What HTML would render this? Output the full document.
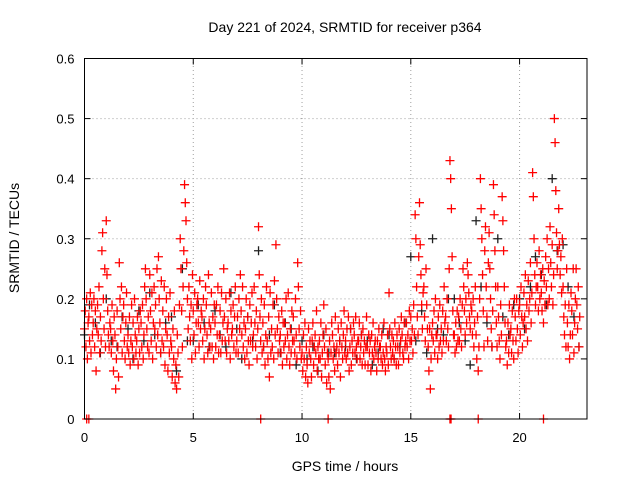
<!DOCTYPE html>
<html><head><meta charset="utf-8"><style>
body{margin:0;background:#fff}
svg{display:block;font-family:"Liberation Sans",sans-serif}
</style></head><body>
<svg id="chart" width="640" height="480" viewBox="0 0 640 480">
<rect x="0" y="0" width="640" height="480" fill="#fff"/>
<text x="345" y="32" text-anchor="middle" font-size="14">Day 221 of 2024, SRMTID for receiver p364</text>
<text x="345" y="471" text-anchor="middle" font-size="14">GPS time / hours</text>
<text transform="translate(19,238) rotate(-90)" text-anchor="middle" font-size="14">SRMTID / TECUs</text>
<g id="grid"></g>
<g id="ticks"></g>
<g id="black-series"></g>
<g id="red-series"></g>
<rect x="84.5" y="58.5" width="502.5" height="360.5" fill="none" stroke="#000" stroke-width="1"/>
</svg>
<script>
const xTicks = [0, 5, 10, 15, 20];
const xTickLabels = ["0", "5", "10", "15", "20"];
const yTicks = [0, 0.1, 0.2, 0.3, 0.4, 0.5, 0.6];
const yTickLabels = ["0", "0.1", "0.2", "0.3", "0.4", "0.5", "0.6"];
const redBinStep = 0.2;
// SRMTID in hundredths of TECU per 0.2h bin
const redBins = [
[15,18,12,20,10,16],[17,13,21,11,19,14],[16,20,12,18,8,15],[19,14,22,11,17,13],[28,31,20,15,25,12],
[33,24,18,14,12,16],[15,11,19,13,8,17],[14,5,10,18,12,7],[26,20,15,22,11,17],[19,13,10,16,21,12],
[14,11,17,9,13,19],[12,16,10,20,14,11],[13,17,9,15,11,18],[16,12,19,10,14,22],[25,20,15,12,17,11],
[24,18,13,21,10,16],[22,15,19,12,25,14],[27,20,16,11,23,13],[18,12,22,9,15,20],[14,8,17,11,21,13],
[12,7,15,10,18,6],[9,5,14,11,7,19],[30,25,18,12,22,28],[39,36,33,26,20,15],[22,17,13,19,10,24],
[18,14,21,11,16,19],[20,16,12,23,15,18],[17,13,20,10,15,22],[19,14,11,24,16,12],[15,21,12,17,10,19],
[16,12,19,14,22,11],[14,18,11,21,13,16],[25,17,13,20,11,15],[16,13,21,10,18,14],[15,19,12,17,22,11],
[13,17,11,20,15,24],[18,14,22,12,16,10],[15,20,11,17,13,9],[19,13,16,21,12,14],[22,16,12,18,10,15],
[32,24,17,13,20,11],[16,12,19,9,14,22],[13,10,17,7,21,11],[15,12,19,10,23,14],[29,20,15,11,17,13],
[14,11,18,9,16,12],[16,13,20,10,14,21],[12,9,15,11,18,13],[17,13,11,20,14,10],[26,22,15,12,18,10],
[11,8,14,10,16,7],[12,9,6,15,11,13],[10,7,13,16,9,12],[14,11,18,8,12,10],[13,10,16,7,11,14],
[19,12,9,15,6,11],[10,7,13,5,11,16],[14,10,12,8,17,11],[12,9,15,11,13,7],[16,12,10,14,18,11],
[13,10,15,11,17,8],[12,15,9,13,11,16],[14,11,17,12,10,13],[13,16,10,12,14,9],[15,11,13,9,12,17],
[12,9,14,11,13,8],[14,11,16,10,12,13],[11,8,13,10,15,12],[12,10,14,9,11,16],[10,8,12,11,14,9],
[21,15,12,10,14,11],[13,10,16,12,9,14],[12,9,15,11,13,17],[14,11,10,16,12,13],[16,12,14,10,18,13],
[17,13,15,11,19,14],[34,30,22,17,14,27],[36,29,24,19,15,21],[22,17,13,25,19,15],[12,8,15,5,10,14],
[16,13,18,11,20,14],[14,10,17,12,19,13],[15,11,18,13,22,16],[17,13,20,15,12,25],[43,40,35,27,18,14],
[14,11,16,12,18,13],[17,13,20,15,12,19],[25,22,18,14,20,16],[26,24,21,17,15,19],[18,14,20,12,16,22],
[14,10,17,8,12,20],[40,35,30,24,18,12],[28,32,22,17,13,26],[31,25,20,15,12,18],[39,34,28,22,16,12],
[22,17,13,10,19,14],[37,33,28,22,16,12],[13,9,16,11,19,14],[15,11,18,13,10,20],[17,13,20,15,11,18],
[19,14,22,17,12,16],[21,17,24,15,19,13],[23,18,20,26,16,21],[41,37,30,24,19,22],[26,22,18,28,20,24],
[21,18,25,16,23,19],[27,22,30,19,25,20],[32,26,22,29,19,24],[50,46,38,31,25,28],[35,29,24,27,21,30],
[22,17,14,19,12,25],[16,12,19,10,14,21],[18,14,25,11,16,20],[25,19,15,22,12,17]
];
const redZeroTimes = [0.1, 0.2, 8.1, 11.2, 16.8, 16.85, 18.1, 21.1];
const blackBinStep = 0.5;
const blackBins = [
[14,19],[16,11],[20,13],[12,17],[15,10],[18,13],[21,14],[11,16],[17,8],[25,13],
[13,19],[16,12],[18,14],[12,21],[15,10],[17,13],[28,12],[14,19],[11,16],[15,9],
[13,10],[12,8],[14,11],[11,13],[12,15],[10,14],[13,9],[11,15],[14,10],[12,16],
[27,13],[18,11],[30,15],[14,20],[20,16],[13,9],[33,22],[16,12],[30,17],[14,19],
[20,15],[22,27],[24,19],[40,28],[29,22],[17,12]
];
const NS = "http://www.w3.org/2000/svg";
const X0 = 84.5, X1 = 587, XMAX = 23.1, Y0 = 419, Y1 = 58.5, YMAX = 0.6;
function xs(t){ return X0 + t / XMAX * (X1 - X0); }
function ys(v){ return Y0 - v / YMAX * (Y0 - Y1); }
function mk(tag, attrs, parent){ const e = document.createElementNS(NS, tag); for (const k in attrs) e.setAttribute(k, attrs[k]); parent.appendChild(e); return e; }
const grid = document.getElementById('grid'), ticks = document.getElementById('ticks');
xTicks.forEach((t, i) => {
  const x = xs(t);
  if (t > 0) { const g = mk('line', {x1:x, x2:x, y1:Y0, y2:Y1, stroke:'#a0a0a0', 'stroke-dasharray':'1,3'}, grid);
      }
  const tk = mk('line', {x1:x, x2:x, y1:Y0, y2:Y0-6, stroke:'#000'}, ticks);
   
  const tk2 = mk('line', {x1:x, x2:x, y1:Y1, y2:Y1+6, stroke:'#000'}, ticks);
   
  const lb = mk('text', {x:x, y:Y0+23, 'text-anchor':'middle', 'font-size':'13'}, ticks);
  lb.textContent = xTickLabels[i];
   
});
yTicks.forEach((v, i) => {
  const y = ys(v);
  if (v > 0 && v < YMAX) { const g = mk('line', {x1:X0, x2:X1, y1:y, y2:y, stroke:'#a0a0a0', 'stroke-dasharray':'1,3'}, grid);
      }
  const tk = mk('line', {x1:X0, x2:X0+6, y1:y, y2:y, stroke:'#000'}, ticks);
   
  const tk2 = mk('line', {x1:X1, x2:X1-6, y1:y, y2:y, stroke:'#000'}, ticks);
   
  const lb = mk('text', {x:X0-10, y:y+5, 'text-anchor':'end', 'font-size':'13'}, ticks);
  lb.textContent = yTickLabels[i];
   
});
function plus(parent, t, v, color){
  const x = xs(t), y = ys(v);
  const p = mk('path', {d:`M${x-4.5},${y}h9M${x},${y-4.5}v9`, stroke:color, 'stroke-width':'1.3', fill:'none'}, parent);
  
  
}
const bg = document.getElementById('black-series');
blackBins.forEach((bin, i) => bin.forEach((v, k) => plus(bg, i*blackBinStep + k*0.23, v/100, '#202020')));
const rg = document.getElementById('red-series');
redBins.forEach((bin, i) => bin.forEach((v, k) => plus(rg, i*redBinStep + k*0.033, v/100, '#ff0000')));
redZeroTimes.forEach(t => plus(rg, t, 0, '#ff0000'));
</script>
</body></html>
